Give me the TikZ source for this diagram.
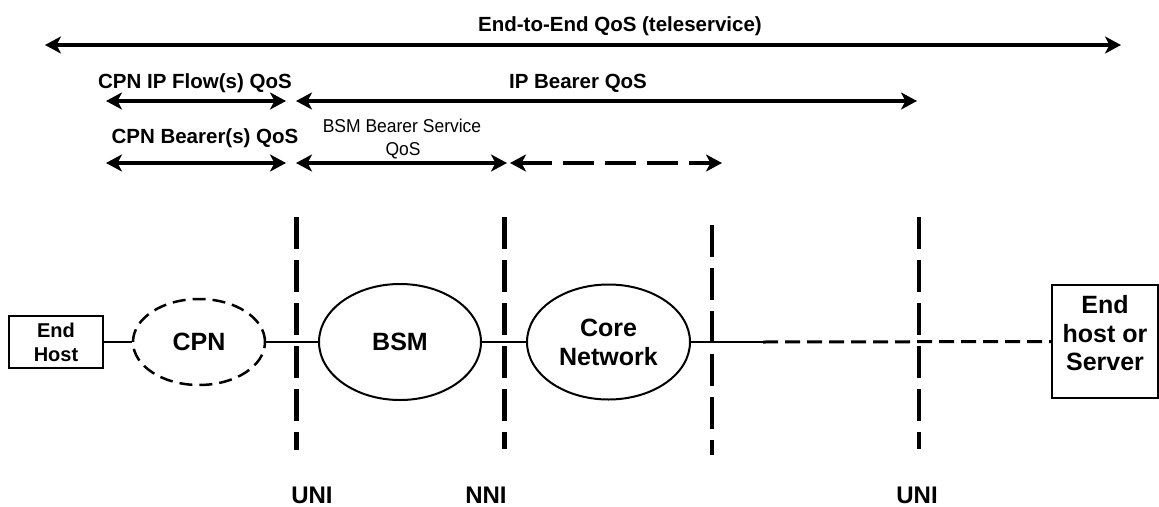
\documentclass[tikz,border=0pt]{standalone}
\usepackage{fontspec}
\setmainfont{Liberation Sans}
\newfontfamily\narrowfont[FakeStretch=0.94]{Liberation Sans}
\usetikzlibrary{arrows.meta,shapes.geometric}
\tikzset{
  tipA/.tip={Stealth[length=16pt,width=17pt,inset=4.5pt]},
  qos/.style={line width=4.5pt, tipA-tipA},
  qosdash/.style={qos, dash pattern=on 31pt off 11pt},
  vline/.style={line width=4.5pt, dash pattern=on 32pt off 11pt},
  conn/.style={line width=2pt},
  conndash/.style={line width=3pt, dash pattern=on 15pt off 7pt},
  lbl/.style={font=\fontsize{20.5}{24}\selectfont\bfseries, inner sep=0pt, anchor=base},
  nlbl/.style={font=\narrowfont\fontsize{18.6}{23}\selectfont, inner sep=0pt, anchor=base},
  ilbl/.style={font=\fontsize{24}{28}\selectfont\bfseries, inner sep=0pt, anchor=base},
  cloud/.style={ellipse, draw, line width=2pt, inner sep=0pt, align=center,
    font=\fontsize{25}{29}\selectfont\bfseries},
  hostbox/.style={rectangle, draw, line width=2pt, inner sep=0pt, align=center}
}
\begin{document}
\begin{tikzpicture}[x=1pt,y=-1pt]
\path[use as bounding box] (0,0) rectangle (1159,506);

% header labels
\node[lbl] (title) at (620,31) {End-to-End QoS (teleservice)};
\node[lbl] (cpnflow) at (195,88) {CPN IP Flow(s) QoS};
\node[lbl] (ipbearer) at (578,88) {IP Bearer QoS};
\node[lbl] (cpnbearer) at (205,143) {CPN Bearer(s) QoS};
\node[nlbl] (bsmbs1) at (402,132) {BSM Bearer Service};
\node[nlbl] (bsmbs2) at (403,155) {QoS};

% arrow end points
\coordinate (e2el) at (45,45);   \coordinate (e2er) at (1121,45);
\coordinate (flowl) at (106,101); \coordinate (flowr) at (286,101);
\coordinate (ipl) at (296,101);   \coordinate (ipr) at (917,101);
\coordinate (cbl) at (106,163);   \coordinate (cbr) at (286,163);
\coordinate (bsl) at (296,163);   \coordinate (bsr) at (507,163);
\coordinate (cnl) at (510,163);   \coordinate (cnr) at (722,163);

\draw[qos] (e2el) -- (e2er);
\draw[qos] (flowl) -- (flowr);
\draw[qos] (ipl) -- (ipr);
\draw[qos] (cbl) -- (cbr);
\draw[qos] (bsl) -- (bsr);
\draw[qosdash] (cnl) -- (cnr);

% interface lines
\coordinate (v1t) at (296.5,217); \coordinate (v1b) at (296.5,450);
\coordinate (v2t) at (504.5,217); \coordinate (v2b) at (504.5,449);
\coordinate (v3t) at (712,225);   \coordinate (v3b) at (712,455);
\coordinate (v4t) at (919,217);   \coordinate (v4b) at (919,449);
\draw[vline] (v1t) -- (v1b);
\draw[vline] (v2t) -- (v2b);
\draw[vline] (v3t) -- (v3b);
\draw[vline] (v4t) -- (v4b);

\node[ilbl] (uni1) at (312,503) {UNI};
\node[ilbl] (nni) at (486,503) {NNI};
\node[ilbl] (uni2) at (917,503) {UNI};

% network elements
\node[hostbox, minimum width=94pt, minimum height=52pt,
      font=\fontsize{20}{24}\selectfont\bfseries] (eh) at (56,342) {End\\Host};
\node[cloud, dash pattern=on 13pt off 7pt, line width=2.5pt,
      minimum width=132pt, minimum height=86pt] (cpn) at (199,342) {CPN};
\node[cloud, minimum width=162pt, minimum height=116pt] (bsm) at (400,342) {BSM};
\node[cloud, minimum width=163pt, minimum height=115pt] (core) at (608.5,342) {Core\\Network};
\node[hostbox, minimum width=106pt, minimum height=113pt] (srv) at (1105,341.5) {};
\node[inner sep=0pt, align=center, font=\fontsize{25}{28.5}\selectfont\bfseries]
      (srvtxt) at (1105,333.5) {End\\host or\\Server};

\coordinate (mid) at (763,342);
\draw[conn] (eh.east) -- (cpn.west);
\draw[conn] (cpn.east) -- (bsm.west);
\draw[conn] (bsm.east) -- (core.west);
\draw[conn] (core.east) -- (mid);
\draw[conndash] (mid) -- (srv.west);
\end{tikzpicture}
\end{document}
